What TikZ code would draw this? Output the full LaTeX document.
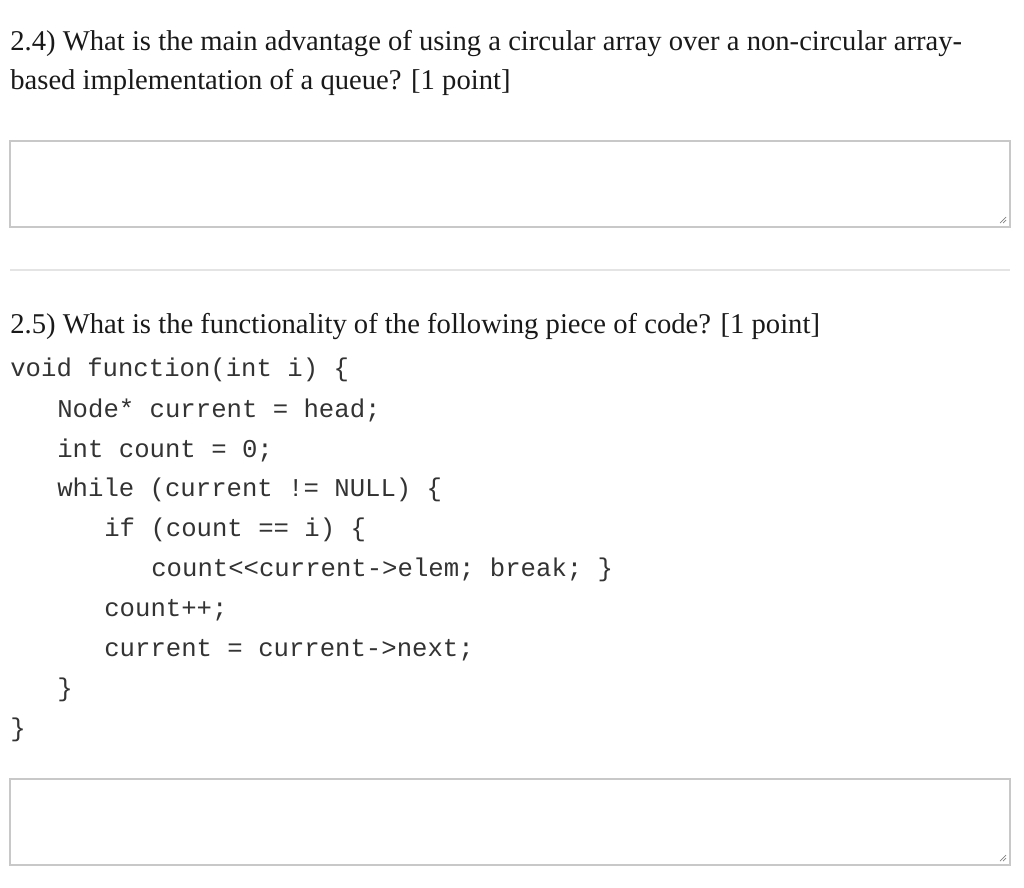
\documentclass[tikz,border=0pt]{standalone}
\usepackage{fontspec}
\setmainfont{Liberation Serif}
\setmonofont{Liberation Mono}
\definecolor{boxgray}{HTML}{C8C8C8}
\definecolor{rulegray}{HTML}{E4E4E4}
\definecolor{codetext}{HTML}{333333}
\tikzset{
  question/.style={anchor=west, inner sep=0pt, text=black!90, font=\fontsize{16.3}{19}\selectfont},
  codeline/.style={anchor=west, inner sep=0pt, text=codetext, font=\ttfamily\fontsize{14.6}{17}\selectfont},
  answerbox/.style={draw=boxgray, line width=1.5pt}
}
\begin{document}
\begin{tikzpicture}[x=0.02cm, y=-0.02cm]
		\useasboundingbox (0,0) rectangle (1024,887);
		%frage 2.4
		\node[question] (q4a) at (10,44) {2.4) What is the main advantage of using a circular array over a non-circular array-};
		\node[question] (q4b) at (10,82) {based implementation of a queue? [1 point]};
		\draw[answerbox] (10,141) rectangle (1010,227);
		\draw[gray] (1000,223) -- (1006,217) (1003,223) -- (1006,220);
		%trenner
		\draw[rulegray, line width=1.5pt] (10,270) -- (1010,270);
		%frage 2.5
		\node[question] (q5) at (10,326) {2.5) What is the functionality of the following piece of code? [1 point]};
		\node[codeline] (c1) at (10,370) {void function(int i) \{};
		\node[codeline] (c2) at (57,410) {Node* current = head;};
		\node[codeline] (c3) at (57,450) {int count = 0;};
		\node[codeline] (c4) at (57,490) {while (current != NULL) \{};
		\node[codeline] (c5) at (104,530) {if (count == i) \{};
		\node[codeline] (c6) at (151,570) {count<{}<current->elem; break; \}};
		\node[codeline] (c7) at (104,610) {count++;};
		\node[codeline] (c8) at (104,650) {current = current->next;};
		\node[codeline] (c9) at (57,690) {\}};
		\node[codeline] (c10) at (10,730) {\}};
		\draw[answerbox] (10,779) rectangle (1010,865);
		\draw[gray] (1000,861) -- (1006,855) (1003,861) -- (1006,858);
	\end{tikzpicture}
\end{document}
